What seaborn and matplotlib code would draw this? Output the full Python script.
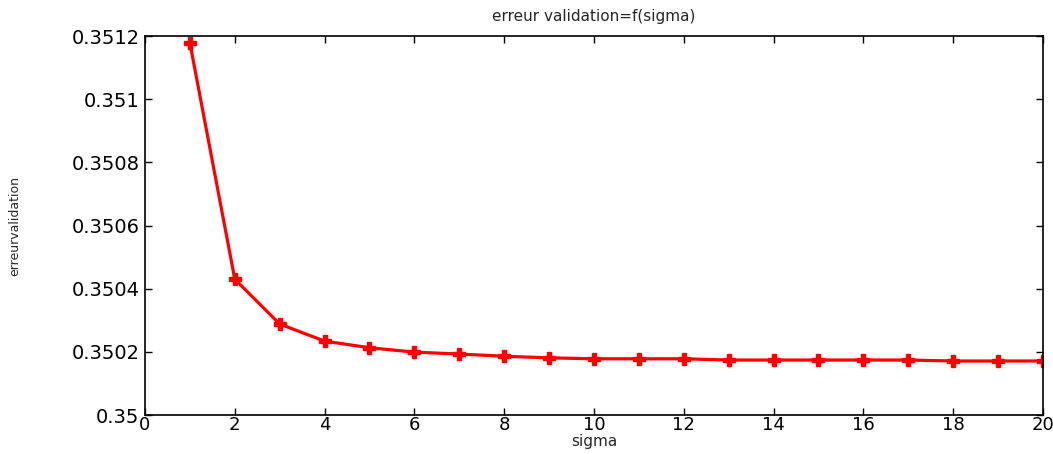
import matplotlib
matplotlib.use("Agg")
import matplotlib.pyplot as plt
import seaborn as sns
import pandas as pd

sigma = list(range(1, 21))
erreur = [0.351178, 0.350430, 0.350288, 0.350234, 0.350213, 0.350199, 0.350193,
          0.350186, 0.350181, 0.350178, 0.350178, 0.350178, 0.350174, 0.350174,
          0.350174, 0.350174, 0.350174, 0.350171, 0.350171, 0.350171]
xticks = [0, 2, 4, 6, 8, 10, 12, 14, 16, 18, 20]
yticks = [0.35, 0.3502, 0.3504, 0.3506, 0.3508, 0.351, 0.3512]
yticklabels = ["0.35", "0.3502", "0.3504", "0.3506", "0.3508", "0.351", "0.3512"]

sns.set_style("white")
plt.rcParams['font.family'] = ['DejaVu Sans']

df = pd.DataFrame({"sigma": sigma, "erreur": erreur})
fig = plt.figure(figsize=(10.53, 4.54), dpi=100)
ax = fig.add_axes([0.1377, 0.0859, 0.8528, 0.8348])
sns.lineplot(data=df, x="sigma", y="erreur", ax=ax, color="#ff0000", linewidth=2.3,
             marker="P", markersize=9, markeredgecolor="#ff0000", markeredgewidth=1)
ax.set_xlim(0, 20)
ax.set_ylim(0.35, 0.3512)
ax.set_xticks(xticks)
ax.set_xticklabels([str(t) for t in xticks], fontsize=13)
ax.set_yticks(yticks)
ax.set_yticklabels(yticklabels, fontsize=14)
ax.tick_params(direction="in", length=5, width=1, top=True, right=True,
               bottom=True, left=True, pad=4, colors="black")
ax.tick_params(axis="x", pad=1)
for s in ax.spines.values():
    s.set_visible(True)
    s.set_color("black")
    s.set_linewidth(1.2)
ax.set_xlabel("sigma", fontsize=11, labelpad=0)
ax.set_ylabel("erreurvalidation", fontsize=9, labelpad=36)
ax.set_title("erreur validation=f(sigma)", fontsize=11, pad=11)
fig.savefig("out.png", dpi=100)
